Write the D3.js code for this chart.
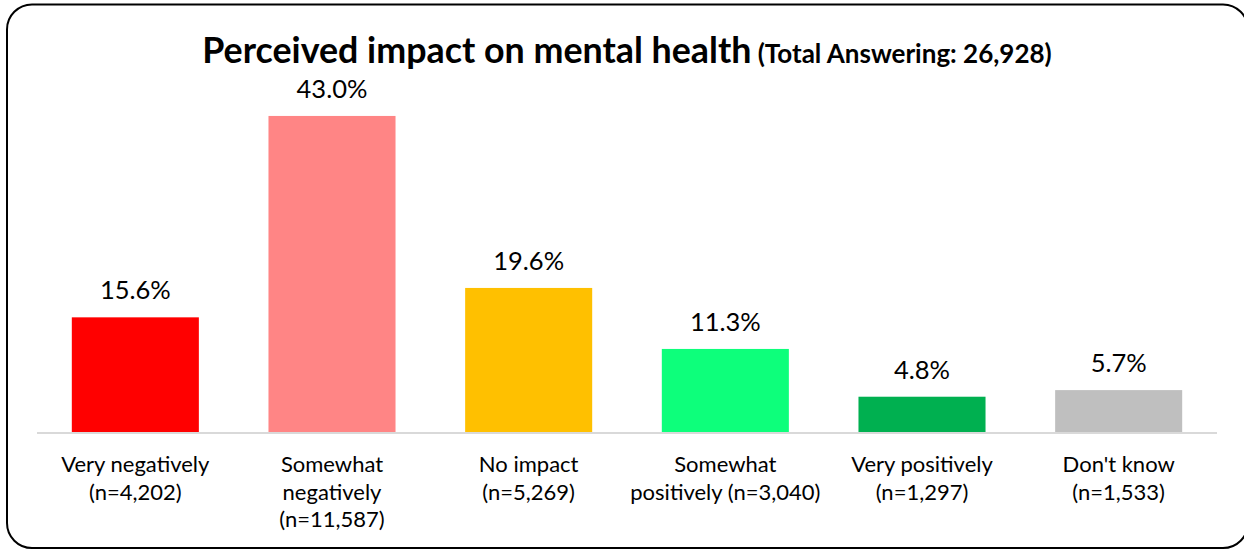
<!DOCTYPE html>
<html>
<head>
<meta charset="utf-8">
<script src="https://cdn.jsdelivr.net/npm/d3@7/dist/d3.min.js"></script>
<style>
  html, body { margin: 0; padding: 0; background: #fff; }
  svg { display: block; }
  text { font-family: Lato, "Open Sans", sans-serif; fill: #000; }
</style>
</head>
<body>
<svg id="chart" width="1244" height="550"></svg>
<script>
// Survey responses: perceived impact on mental health
const categories = [
  ["Very negatively", "(n=4,202)"],
  ["Somewhat", "negatively", "(n=11,587)"],
  ["No impact", "(n=5,269)"],
  ["Somewhat", "positively (n=3,040)"],
  ["Very positively", "(n=1,297)"],
  ["Don't know", "(n=1,533)"]
];
const percents = [15.6, 43.0, 19.6, 11.3, 4.8, 5.7];
const barColors = ["#FF0000", "#FF8585", "#FFC000", "#0DFF7B", "#00B050", "#BFBFBF"];
const titleMain = "Perceived impact on mental health";
const titleSub = "(Total Answering: 26,928)";

const svg = d3.select("#chart");

// rounded frame around the chart
svg.append("rect")
  .attr("x", 7).attr("y", 4.5)
  .attr("width", 1241).attr("height", 543.5)
  .attr("rx", 25).attr("ry", 25)
  .attr("fill", "#fff")
  .attr("stroke", "#000")
  .attr("stroke-width", 2);

const plot = { left: 37, right: 1217, base: 432 };

const x = d3.scaleBand()
  .domain(d3.range(categories.length))
  .range([plot.left, plot.right])
  .paddingInner(0.354)
  .paddingOuter(0.177);

const y = d3.scaleLinear()
  .domain([0, 50])
  .range([plot.base, plot.base - 367.5]);

// title
const title = svg.append("text")
  .attr("x", 627).attr("y", 63)
  .attr("text-anchor", "middle");
title.append("tspan")
  .attr("font-weight", 700)
  .attr("font-size", 35.8)
  .text(titleMain);
title.append("tspan")
  .attr("font-weight", 700)
  .attr("font-size", 26)
  .text(" " + titleSub);

// bars
svg.append("g").selectAll("rect")
  .data(percents)
  .join("rect")
  .attr("x", (d, i) => x(i))
  .attr("y", d => y(d))
  .attr("width", x.bandwidth())
  .attr("height", d => y(0) - y(d))
  .attr("fill", (d, i) => barColors[i]);

// value labels
svg.append("g").selectAll("text")
  .data(percents)
  .join("text")
  .attr("x", (d, i) => x(i) + x.bandwidth() / 2)
  .attr("y", d => y(d) - 18)
  .attr("text-anchor", "middle")
  .attr("font-size", 25.5)
  .text(d => d.toFixed(1) + "%");

// category axis (line only, labels below)
const axis = d3.axisBottom(x).tickSize(0).tickFormat("");
const gAxis = svg.append("g")
  .attr("transform", `translate(0,${plot.base + 1})`)
  .call(axis);
gAxis.select(".domain")
  .attr("stroke", "#D9D9D9")
  .attr("stroke-width", 2)
  .attr("d", `M${plot.left},0H${plot.right}`);

const labels = svg.append("g").selectAll("text")
  .data(categories)
  .join("text")
  .attr("text-anchor", "middle")
  .attr("font-size", 22)
  .attr("x", (d, i) => x(i) + x.bandwidth() / 2)
  .attr("y", 472);
labels.selectAll("tspan")
  .data(d => d)
  .join("tspan")
  .attr("x", function () { return this.parentNode.getAttribute("x"); })
  .attr("dy", (d, j) => j === 0 ? 0 : 27.5)
  .text(d => d);
</script>
</body>
</html>
